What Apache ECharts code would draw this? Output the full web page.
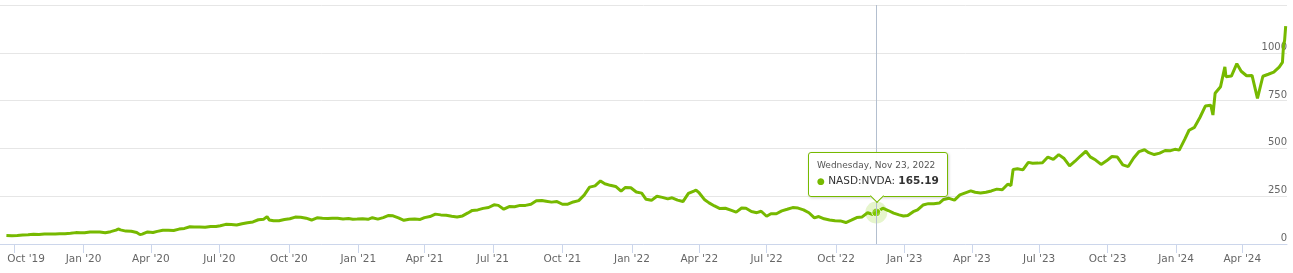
<!DOCTYPE html>
<html>
<head>
<meta charset="utf-8">
<script src="https://cdn.jsdelivr.net/npm/echarts@6/dist/echarts.min.js"></script>
<style>
html,body{margin:0;padding:0;background:#fff;}
#chart{width:1293px;height:273px;}
</style>
</head>
<body>
<div id="chart"></div>
<script>
// ---- DATA ----
const seriesName = "NASD:NVDA";
const dates = [
"2019-09-20","2019-09-27","2019-10-04","2019-10-11","2019-10-18","2019-10-25","2019-11-01","2019-11-08","2019-11-15","2019-11-22","2019-11-29","2019-12-06","2019-12-13","2019-12-20","2019-12-27",
"2020-01-03","2020-01-10","2020-01-17","2020-01-24","2020-01-31","2020-02-07","2020-02-14","2020-02-19","2020-02-21","2020-02-28","2020-03-06","2020-03-13","2020-03-18","2020-03-20","2020-03-27","2020-04-03","2020-04-09","2020-04-17","2020-04-24","2020-05-01","2020-05-08","2020-05-15","2020-05-22","2020-05-29","2020-06-05","2020-06-12","2020-06-19","2020-06-26","2020-07-02","2020-07-10","2020-07-17","2020-07-24","2020-07-31","2020-08-07","2020-08-14","2020-08-21","2020-08-28","2020-09-02","2020-09-04","2020-09-11","2020-09-18","2020-09-25","2020-10-02","2020-10-09","2020-10-16","2020-10-23","2020-10-30","2020-11-06","2020-11-13","2020-11-20","2020-11-27","2020-12-04","2020-12-11","2020-12-18","2020-12-24",
"2020-12-31","2021-01-08","2021-01-15","2021-01-22","2021-01-29","2021-02-05","2021-02-12","2021-02-19","2021-02-26","2021-03-05","2021-03-12","2021-03-19","2021-03-26","2021-04-01","2021-04-09","2021-04-16","2021-04-23","2021-04-30","2021-05-07","2021-05-14","2021-05-21","2021-05-28","2021-06-04","2021-06-11","2021-06-18","2021-06-25","2021-07-02","2021-07-09","2021-07-16","2021-07-23","2021-07-30","2021-08-06","2021-08-13","2021-08-20","2021-08-27","2021-09-03","2021-09-10","2021-09-17","2021-09-24","2021-10-01","2021-10-08","2021-10-15","2021-10-22","2021-10-29","2021-11-05","2021-11-12","2021-11-19","2021-11-26","2021-12-03","2021-12-10","2021-12-17","2021-12-23","2021-12-31",
"2022-01-07","2022-01-14","2022-01-21","2022-01-28","2022-02-04","2022-02-11","2022-02-18","2022-02-25","2022-03-04","2022-03-11","2022-03-18","2022-03-25","2022-03-29","2022-04-01","2022-04-08","2022-04-14","2022-04-22","2022-04-29","2022-05-06","2022-05-13","2022-05-20","2022-05-27","2022-06-03","2022-06-10","2022-06-17","2022-06-24","2022-07-01","2022-07-08","2022-07-15","2022-07-22","2022-07-29","2022-08-05","2022-08-12","2022-08-19","2022-08-26","2022-09-02","2022-09-09","2022-09-16","2022-09-23","2022-09-30","2022-10-07","2022-10-14","2022-10-21","2022-10-28","2022-11-04","2022-11-11","2022-11-18","2022-11-23","2022-11-25","2022-12-02","2022-12-09","2022-12-16","2022-12-23","2022-12-30",
"2023-01-06","2023-01-13","2023-01-20","2023-01-27","2023-02-03","2023-02-10","2023-02-17","2023-02-24","2023-03-03","2023-03-10","2023-03-17","2023-03-24","2023-03-31","2023-04-06","2023-04-14","2023-04-21","2023-04-28","2023-05-05","2023-05-12","2023-05-19","2023-05-24","2023-05-26","2023-06-02","2023-06-09","2023-06-16","2023-06-23","2023-06-30","2023-07-07","2023-07-14","2023-07-21","2023-07-28","2023-08-04","2023-08-11","2023-08-18","2023-08-25","2023-09-01","2023-09-08","2023-09-15","2023-09-22","2023-09-29","2023-10-06","2023-10-13","2023-10-20","2023-10-27","2023-11-03","2023-11-10","2023-11-17","2023-11-24","2023-12-01","2023-12-08","2023-12-15","2023-12-22","2023-12-29",
"2024-01-05","2024-01-12","2024-01-19","2024-01-26","2024-02-02","2024-02-09","2024-02-16","2024-02-21","2024-02-23","2024-03-01","2024-03-07","2024-03-08","2024-03-15","2024-03-22","2024-03-25","2024-03-28","2024-04-05","2024-04-12","2024-04-19","2024-04-26","2024-05-03","2024-05-10","2024-05-17","2024-05-22","2024-05-23","2024-05-24","2024-05-28","2024-05-29"
];
const prices = [
44.4,43.0,45.0,47.5,48.0,51.0,50.3,52.0,52.3,52.5,54.2,53.8,56.0,59.5,59.3,
59.0,63.0,62.5,62.5,59.1,64.5,72.5,78.7,73.8,67.5,67.0,60.5,49.0,51.5,63.2,60.2,66.0,71.8,71.5,71.0,78.0,81.5,90.2,88.8,88.8,87.5,91.8,91.8,95.8,102.8,102.0,99.8,106.2,111.5,115.5,126.8,130.0,143.3,126.0,121.5,121.8,128.0,131.8,140.8,139.5,135.0,125.3,137.0,134.5,132.8,134.3,134.3,130.8,132.8,129.8,
130.5,132.5,129.0,137.5,130.0,138.0,149.3,147.5,136.5,124.0,129.3,130.3,128.5,138.0,143.8,156.3,152.3,150.0,144.8,141.3,146.8,162.5,175.8,178.3,186.3,190.8,204.7,202.0,182.0,195.6,195.0,202.0,201.9,208.0,226.0,228.0,224.0,219.0,222.0,208.0,208.0,220.0,227.0,255.7,297.5,304.0,329.8,315.0,306.9,301.0,277.0,296.0,294.0,
272.0,266.0,234.0,228.4,250.0,244.0,236.0,241.6,229.7,222.0,264.5,276.9,282.0,267.0,231.0,215.0,199.0,185.5,187.0,177.0,166.9,188.1,187.2,169.7,163.7,171.3,145.2,158.4,158.0,173.2,181.6,190.4,187.9,178.4,163.4,136.5,143.7,131.6,125.6,121.4,120.8,112.3,124.7,138.3,141.6,163.3,154.1,165.19,163.7,187.5,175.2,161.5,152.1,146.1,
148.6,168.9,178.4,203.7,211.0,211.0,213.9,232.9,238.9,229.6,257.3,267.8,277.8,270.4,267.1,271.0,277.5,287.0,283.4,312.6,305.4,389.5,393.3,387.7,426.9,422.1,423.0,425.0,454.7,443.0,467.5,446.8,408.5,432.9,460.2,485.1,455.7,439.0,416.1,435.0,457.6,454.6,413.9,405.0,450.0,483.4,493.0,477.8,467.7,475.1,488.9,488.3,495.2,
491.0,547.1,594.9,610.3,661.6,721.3,726.1,674.7,788.2,822.8,926.7,875.3,878.4,942.9,950.0,903.6,880.1,881.9,762.0,877.4,887.9,898.8,924.8,949.5,1038.0,1064.7,1139.0,1148.25
];
const tickDates = ["2019-10-01","2020-01-01","2020-04-01","2020-07-01","2020-10-01","2021-01-01","2021-04-01","2021-07-01","2021-10-01","2022-01-01","2022-04-01","2022-07-01","2022-10-01","2023-01-01","2023-04-01","2023-07-01","2023-10-01","2024-01-01","2024-04-01"];
const tickLabels = ["Oct '19","Jan '20","Apr '20","Jul '20","Oct '20","Jan '21","Apr '21","Jul '21","Oct '21","Jan '22","Apr '22","Jul '22","Oct '22","Jan '23","Apr '23","Jul '23","Oct '23","Jan '24","Apr '24"];
// market closures: the x axis counts trading days only (ordinal stock axis)
const marketHolidays = ["2019-11-28","2019-12-25","2020-01-01","2020-01-20","2020-02-17","2020-04-10","2020-05-25","2020-07-03","2020-09-07","2020-11-26","2020-12-25","2021-01-01","2021-01-18","2021-02-15","2021-04-02","2021-05-31","2021-07-05","2021-09-06","2021-11-25","2021-12-24","2022-01-17","2022-02-21","2022-04-15","2022-05-30","2022-06-20","2022-07-04","2022-09-05","2022-11-24","2022-12-26","2023-01-02","2023-01-16","2023-02-20","2023-04-07","2023-05-29","2023-06-19","2023-07-04","2023-09-04","2023-11-23","2023-12-25","2024-01-01","2024-01-15","2024-02-19","2024-03-29","2024-05-27"];
const yTicks = [0, 250, 500, 750, 1000, 1250];
const tipDate = "2022-11-23";
const tipValue = 165.19;

// ---- ordinal (trading-day) index ----
const holidaySet = new Set(marketHolidays);
const tradeIdx = {};
(function () {
  const d = new Date(2019, 8, 1);
  const end = new Date(2024, 6, 1);
  let n = 0;
  while (d <= end) {
    const key = d.getFullYear() + '-' + String(d.getMonth() + 1).padStart(2, '0') + '-' + String(d.getDate()).padStart(2, '0');
    tradeIdx[key] = n;            // trading days strictly before this date
    const wd = d.getDay();
    if (wd !== 0 && wd !== 6 && !holidaySet.has(key)) n++;
    d.setDate(d.getDate() + 1);
  }
})();
const X = s => tradeIdx[s];

// ---- CHART ----
const GREEN = '#76b900';
const tickX = tickDates.map(X);
const lineData = dates.map((d, i) => [X(d), prices[i]]);
const tipIndex = dates.indexOf(tipDate);
const dayNames = ['Sunday','Monday','Tuesday','Wednesday','Thursday','Friday','Saturday'];
const monNames = ['Jan','Feb','Mar','Apr','May','Jun','Jul','Aug','Sep','Oct','Nov','Dec'];
const labelFont = {color: '#666666', fontFamily: 'DejaVu Sans', fontSize: 10.5};

const chart = echarts.init(document.getElementById('chart'), null, {renderer: 'canvas'});
chart.setOption({
  animation: false,
  backgroundColor: '#ffffff',
  grid: {left: 0, right: 6, top: 5, bottom: 29, containLabel: false, outerBoundsMode: 'none'},
  xAxis: {
    type: 'value',
    min: X(tickDates[0]) - 12.9,
    max: X(dates[dates.length - 1]) + 0.2,
    axisLine: {show: true, onZero: false, lineStyle: {color: '#ccd6eb', width: 1}},
    axisTick: {show: true, customValues: tickX, length: 9, lineStyle: {color: '#ccd6eb', width: 1}},
    axisLabel: Object.assign({
      customValues: tickX,
      margin: 10,
      rich: {first: Object.assign({padding: [0, 0, 0, 24]}, labelFont)},
      formatter: v => {
        const i = tickX.indexOf(+v);
        if (i < 0) return '';
        return i === 0 ? '{first|' + tickLabels[i] + '}' : tickLabels[i];
      }
    }, labelFont),
    splitLine: {show: false}
  },
  yAxis: {
    type: 'value',
    position: 'right',
    min: yTicks[0],
    max: yTicks[yTicks.length - 1],
    interval: 250,
    axisLine: {show: false},
    axisTick: {show: false},
    splitLine: {show: true, lineStyle: {color: '#e6e6e6', width: 1}},
    axisLabel: {
      inside: true,
      margin: 0,
      color: '#666666',
      fontFamily: 'DejaVu Sans',
      fontSize: 10,
      lineHeight: 11,
      verticalAlign: 'bottom',
      formatter: v => (v === yTicks[yTicks.length - 1] ? '' : String(v))
    }
  },
  tooltip: {
    trigger: 'axis',
    triggerOn: 'none',
    alwaysShowContent: true,
    transitionDuration: 0,
    backgroundColor: 'rgba(255,255,255,0.96)',
    borderColor: GREEN,
    borderWidth: 1,
    borderRadius: 3,
    padding: [6, 8, 6, 8],
    extraCssText: 'box-shadow:1px 1px 3px rgba(0,0,0,0.18);overflow:visible;',
    axisPointer: {type: 'line', lineStyle: {color: '#b3bfcf', width: 1, type: 'solid'}, label: {show: false}},
    position: function () { return [808, 152]; },
    formatter: function (params) {
      const list = Array.isArray(params) ? params : [params];
      const p = list.find(q => q.seriesIndex === 0) || list[0];
      const ds = dates[p.dataIndex];
      const d = new Date(ds + 'T00:00:00');
      const title = dayNames[d.getDay()] + ', ' + monNames[d.getMonth()] + ' ' + d.getDate() + ', ' + d.getFullYear();
      return '<div style="position:relative;font-family:\'DejaVu Sans\';">' +
        '<div style="font-size:9px;line-height:13px;color:#555;white-space:nowrap;">' + title + '</div>' +
        '<div style="font-size:10.5px;line-height:17px;color:#333;white-space:nowrap;">' +
        '<span style="color:' + GREEN + ';font-size:9px;">\u25CF</span> ' + seriesName + ': <b>' + prices[p.dataIndex].toFixed(2) + '</b></div>' +
        '<div style="position:absolute;left:55px;bottom:-11px;width:9px;height:9px;background:#fff;border-right:1px solid ' + GREEN + ';border-bottom:1px solid ' + GREEN + ';transform:rotate(45deg);"></div>' +
        '</div>';
    }
  },
  series: [
    {
      name: seriesName,
      type: 'line',
      data: lineData,
      symbol: 'none',
      lineStyle: {color: GREEN, width: 3},
      itemStyle: {color: GREEN},
      emphasis: {disabled: true},
      z: 3
    },
    {
      name: 'halo',
      type: 'scatter',
      data: [[X(tipDate), tipValue]],
      symbolSize: 20,
      itemStyle: {color: 'rgba(118,185,0,0.25)'},
      silent: true,
      z: 4
    },
    {
      name: 'point',
      type: 'scatter',
      data: [[X(tipDate), tipValue]],
      symbolSize: 8,
      itemStyle: {color: GREEN, borderColor: '#ffffff', borderWidth: 1},
      silent: true,
      z: 5
    }
  ]
});
chart.dispatchAction({type: 'showTip', seriesIndex: 0, dataIndex: tipIndex});
</script>
</body>
</html>
